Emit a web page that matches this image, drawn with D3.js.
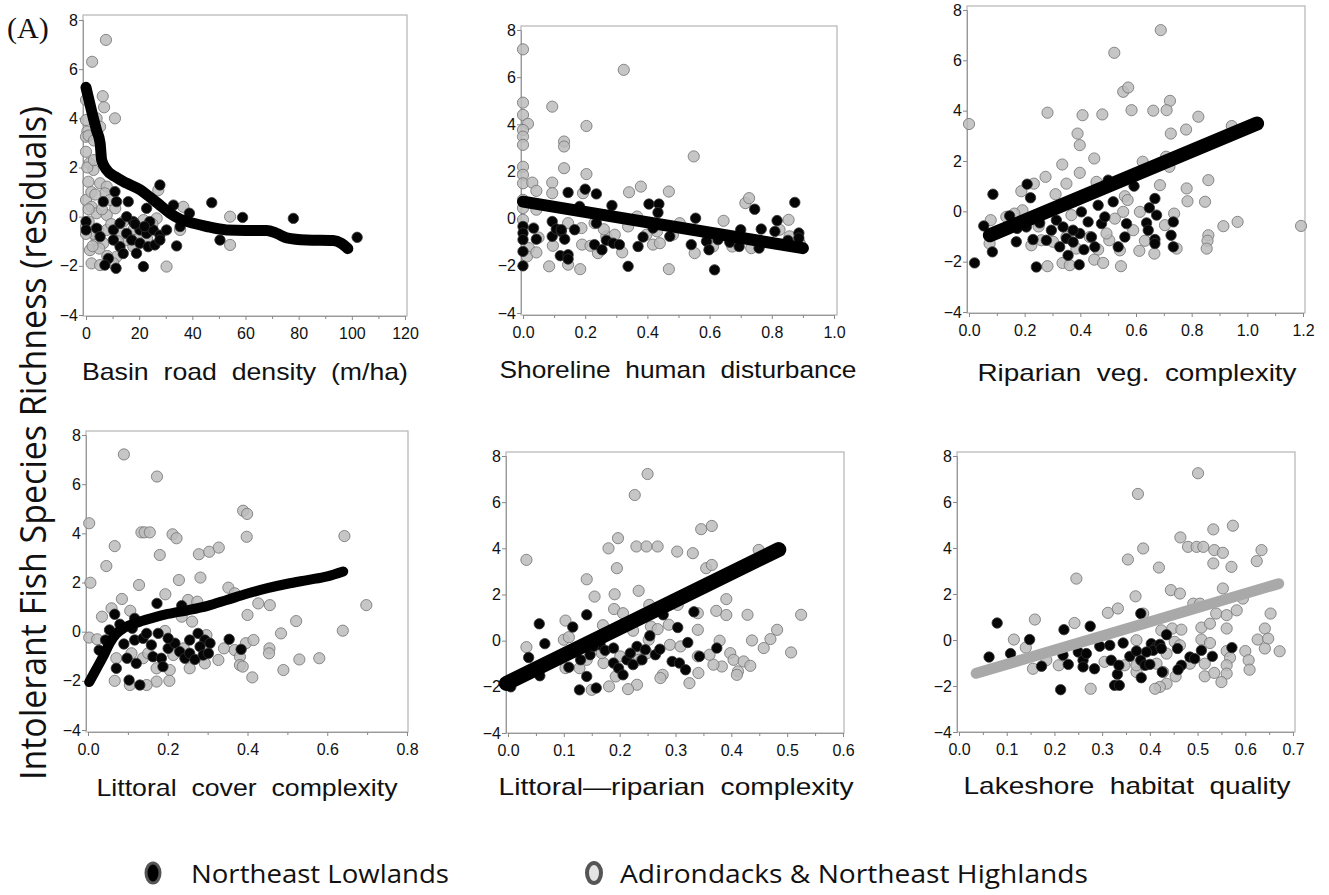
<!DOCTYPE html>
<html><head><meta charset="utf-8">
<script src="https://cdn.jsdelivr.net/npm/d3@7"></script>
<style>
html,body{margin:0;padding:0;background:#fff;}
svg{display:block;}
</style></head>
<body>
<svg id="chart" width="1329" height="895"></svg>
<script>
// ---------- DATA ----------
const yTicks = [-4, -2, 0, 2, 4, 6, 8];
const p1XTicks = [0, 20, 40, 60, 80, 100, 120];
const p2XTicks = [0, 0.2, 0.4, 0.6, 0.8, 1.0];
const p3XTicks = [0, 0.2, 0.4, 0.6, 0.8, 1.0, 1.2];
const p4XTicks = [0, 0.2, 0.4, 0.6, 0.8];
const p5XTicks = [0, 0.1, 0.2, 0.3, 0.4, 0.5, 0.6];
const p6XTicks = [0, 0.1, 0.2, 0.3, 0.4, 0.5, 0.6, 0.7];
const xTitles = ["Basin  road  density  (m/ha)", "Shoreline  human  disturbance", "Riparian  veg.  complexity",
  "Littoral  cover  complexity", "Littoral\u2014riparian  complexity", "Lakeshore  habitat  quality"];
const yTitle = "Intolerant Fish Species Richness (residuals)";
const legendLabels = ["Northeast Lowlands", "Adirondacks & Northeast Highlands"];
const panelTag = "(A)";

// Panel 1: Basin road density
const p1Gray = [[7.5,7.19],[2.3,6.3],[6.3,4.9],[6.8,4.45],[10.9,4.0],[0,4.75],[0,3.93],[0.5,3.46],[0,3.25],[4,4.0],[5.3,3.66],
 [0,2.64],[1.3,2.17],[2.8,1.9],[0.9,1.42],[5.3,1.36],[7.8,1.22],[0,0.68],[2.1,0.4],[4,0.14],[7.8,0.07],[11,0.34],[0,-0.4],
 [4.6,-0.54],[1.5,-1.36],[4,-0.95],[6.5,-1.08],[2.1,-1.9],[5.3,-1.97],[11.5,-1.63],[10.3,-1.9],[27.2,1.08],[26.6,-0.07],
 [21.6,-0.14],[36.6,0.4],[35.4,-0.54],[30.3,-2.03],[54.2,0],[54.2,-1.15],[15.3,-0.95],[20.3,-0.68],[7.1,0.95],[9,0.68],
 [13.4,-0.68],[17.8,-1.22],[7.8,-0.54],[1,3.3],[3,3.1],[0.5,2.0],[2,1.0],[3.5,0.9],[6,0.3],[1,-0.2],[3,-0.7],[5,-1.3],
 [8,-1.6],[2.5,-1.2],[9.5,-0.3],[12,-1.0],[14,-0.2],[18,-0.5],[23,-0.9],[25,-0.3],[0,-0.7],[1,0.3],[3,2.3]];
const p1Black = [[27.8,1.29],[10.9,1.02],[6.5,0.61],[11.5,0.61],[15.9,0.61],[22.8,0.34],[32.9,0.47],[47.3,0.57],[38.9,0.14],
 [58.9,-0.03],[78,-0.07],[102,-0.84],[0,-0.2],[0,-0.54],[4,-0.47],[10.3,-0.54],[12.8,-0.27],[17.8,-0.2],[20.3,-0.54],
 [22.8,-0.68],[25.3,-0.54],[27.8,-0.75],[15.3,-0.68],[17.2,-0.95],[20.3,-1.08],[23.4,-1.22],[25.9,-1.15],[12.8,-1.22],
 [10.3,-0.95],[8.4,-1.7],[7.1,-1.97],[11.3,-2.1],[21.6,-2.03],[34.1,-1.19],[50.4,-0.95],[35.4,-0.4],[19,-1.49],[5.3,-0.81],
 [15.3,0],[27.8,-0.95],[30.3,-0.54],[18.5,-0.3],[24,-0.2],[14,-1.5],[22,-0.4]];
const p1Fit = [[0,5.26],[1,4.8],[2.1,4.3],[4,3.5],[5.3,3.0],[5.9,2.3],[7.8,1.9],[10.9,1.63],[15.3,1.36],[20.3,1.1],[24,0.8],
 [27.8,0.47],[31.6,0.14],[35.4,-0.1],[40.4,-0.27],[45.4,-0.4],[52.9,-0.54],[60,-0.56],[68,-0.56],[71.7,-0.68],[75.5,-0.86],
 [83,-0.95],[93,-0.97],[96,-1.08],[98.5,-1.3]];

// Panel 2: Shoreline human disturbance
const p2Gray = [[0,7.18],[0.324,6.31],[0,4.92],[0.094,4.75],[0,4.4],[0.016,4.02],[0,3.76],[0,3.48],[0,3.13],[0.204,3.93],
 [0.132,3.27],[0.132,3.06],[0.132,2.14],[0.204,1.89],[0.549,2.64],[0,2.2],[0,1.86],[0,1.5],[0.03,1.53],[0.043,1.18],
 [0.094,1.53],[0.094,1.08],[0.193,1.08],[0.341,1.12],[0.379,1.36],[0.469,1.15],[0.715,0.66],[0.727,0.87],[0.645,-0.09],
 [0.854,-0.05],[0,0.8],[0,0.45],[0.043,0.38],[0,-0.05],[0.145,-0.19],[0.188,-0.4],[0.23,-0.19],[0.268,-0.75],[0.295,-0.68],
 [0.338,-0.33],[0.367,0.09],[0.397,-0.68],[0.418,-1.1],[0.44,-1.04],[0.504,-0.19],[0.482,-0.68],[0.096,-1.15],[0.19,-1.1],
 [0.217,-1.15],[0.241,-1.46],[0.319,-1.43],[0.552,-1.46],[0.019,-1.25],[0.013,-1.6],[0.043,-1.43],[0.084,-2.02],
 [0.145,-1.95],[0.184,-2.14],[0.469,-2.14],[0.611,-1.18],[0.673,-1.18],[0.734,-1.25],[0.825,-0.47],[0.857,-0.75],
 [0.89,-1.04],[0.595,-0.89],[0.431,-0.54],[0.26,-0.45],[0.05,-0.8],[0.11,-0.5]];
const p2Black = [[0.145,1.11],[0.2,1.25],[0.236,1.05],[0.286,0.56],[0.405,0.62],[0.437,0.62],[0.434,0.26],[0.555,0.02],
 [0.745,0.4],[0.874,0.69],[0.817,-0.08],[0.766,-0.44],[0.7,-0.47],[0.81,-0.54],[0.887,-0.61],[0.887,-0.82],[0,-0.33],
 [0,-0.61],[0,-0.89],[0.034,-0.4],[0.043,-0.87],[0.094,-0.12],[0.094,-0.75],[0.107,-0.44],[0.123,-0.54],[0.134,-0.87],
 [0.123,-0.47],[0.166,-0.47],[0.12,-1.57],[0.145,-1.53],[0.145,-1.71],[0,-1.39],[0,-2.0],[0.23,-1.1],[0.254,-1.32],
 [0.268,-0.92],[0.29,-1.04],[0.31,-1.1],[0.37,-1.18],[0.386,-0.78],[0.338,-2.02],[0.472,-0.75],[0.541,-1.1],[0.59,-0.96],
 [0.598,-1.32],[0.616,-2.17],[0.627,-0.89],[0.665,-1.0],[0.695,-1.18],[0.759,-1.25],[0.852,-0.92],[0.236,-0.19],
 [0.418,-0.4],[0.182,0.52]];
const p2Fit = [[0,0.72],[0.9,-1.25]];

// Panel 3: Riparian veg. complexity
const p3Gray = [[0.689,7.2],[0.522,6.3],[0.554,4.75],[0.572,4.92],[0.722,4.39],[0.71,4.02],[0.662,4.0],[0.584,4.02],
 [0.282,3.92],[0.408,3.82],[0.479,3.85],[0.824,3.76],[0,3.47],[0.944,3.39],[0.78,3.25],[0.725,3.09],[0.39,3.09],
 [0.398,2.63],[0.45,2.1],[0.335,1.86],[0.398,1.53],[0.624,1.97],[0.708,2.17],[0.72,1.77],[0.275,1.37],[0.233,1.1],
 [0.35,1.1],[0.458,1.17],[0.686,1.04],[0.86,1.24],[0.782,0.91],[0.188,0.8],[0.311,0.68],[0.785,0.4],[0.848,0.38],
 [0.192,0.04],[0.134,-0.22],[0.078,-0.35],[0.163,-0.09],[0.368,-0.15],[0.554,-0.02],[0.614,-0.02],[0.737,-0.09],
 [0.914,-0.59],[0.965,-0.42],[1.193,-0.58],[0.704,-0.55],[0.86,-0.95],[0.857,-1.17],[0.854,-1.48],[0.59,-0.75],
 [0.632,-1.17],[0.612,-1.57],[0.666,-1.68],[0.746,-1.48],[0.302,-1.21],[0.26,-1.15],[0.224,-1.35],[0.074,-1.28],
 [0.35,-1.02],[0.504,-1.15],[0.464,-1.52],[0.542,-1.55],[0.282,-2.18],[0.336,-2.05],[0.362,-2.14],[0.45,-1.92],
 [0.482,-2.05],[0.546,-2.18],[0.386,-1.48],[0.434,-1.02],[0.494,-0.88],[0.524,-0.29],[0.56,0.6],[0.57,0.45],[0.25,-0.6]];
const p3Black = [[0.086,0.68],[0.053,-0.58],[0.084,-1.61],[0.02,-2.05],[0.209,1.08],[0.221,0.54],[0.242,-2.21],[0.5,1.24],
 [0.593,1.0],[0.518,0.38],[0.464,0.24],[0.668,0.51],[0.648,0.14],[0.674,-0.15],[0.734,-0.42],[0.726,-0.95],[0.734,-1.41],
 [0.668,-1.12],[0.668,-1.28],[0.638,-0.46],[0.644,-0.75],[0.146,-0.18],[0.173,-0.68],[0.17,-1.21],[0.206,-0.62],
 [0.23,-1.12],[0.254,-0.46],[0.296,-0.75],[0.314,-0.35],[0.338,-0.62],[0.35,-1.08],[0.374,-1.22],[0.398,-0.88],
 [0.404,-0.02],[0.428,-0.42],[0.44,-1.02],[0.452,-1.41],[0.476,-0.49],[0.488,-0.22],[0.413,-1.52],[0.356,-1.75],
 [0.396,-2.12],[0.536,-1.41],[0.56,-1.02],[0.566,-0.49],[0.374,-0.75],[0.278,-1.15],[0.326,-1.41]];
const p3Fit = [[0.075,-0.95],[1.035,3.49]];

// Panel 4: Littoral cover complexity
const p4Gray = [[0.09,7.21],[0.173,6.31],[0.003,4.41],[0.389,4.92],[0.399,4.79],[0.398,3.86],[0.643,3.89],[0.134,4.04],
 [0.142,4.04],[0.155,4.04],[0.212,3.96],[0.222,3.8],[0.067,3.48],[0.18,3.12],[0.278,3.15],[0.304,3.25],[0.328,3.42],
 [0.046,2.67],[0.006,1.99],[0.128,1.9],[0.228,2.1],[0.282,2.2],[0.352,1.79],[0.368,1.56],[0.194,1.52],[0.085,1.33],
 [0.059,0.95],[0.106,0.85],[0.035,0.61],[0.251,1.29],[0.274,1.22],[0.427,1.15],[0.456,1.08],[0.698,1.08],[0.4,0.68],
 [0.522,0.43],[0.639,0.04],[0.484,-0.07],[0.003,-0.24],[0.023,-0.31],[0.193,0.03],[0.235,0.61],[0.261,0.41],[0.297,-0.14],
 [0.341,-0.68],[0.368,-0.75],[0.396,-0.47],[0.415,-0.34],[0.455,-0.68],[0.454,-0.88],[0.381,-1.02],[0.381,-1.36],
 [0.388,-1.42],[0.412,-1.86],[0.49,-1.56],[0.53,-1.13],[0.58,-1.08],[0.327,-1.15],[0.293,-1.29],[0.255,-1.49],
 [0.205,-1.56],[0.172,-1.49],[0.172,-2.03],[0.204,-2.0],[0.147,-2.17],[0.105,-2.17],[0.067,-2.0],[0.071,-1.08],
 [0.109,-0.88],[0.138,-1.08],[0.151,-0.88],[0.24,-0.68],[0.214,-0.95]];
const p4Black = [[0.067,0.71],[0.173,1.15],[0.235,1.06],[0.028,-0.75],[0.044,-0.34],[0.054,0.07],[0.071,-1.49],[0.103,-1.97],
 [0.13,-2.17],[0.121,-1.29],[0.098,-1.08],[0.117,-0.34],[0.138,-0.27],[0.111,0.14],[0.117,0.54],[0.159,-0.54],[0.163,-1.02],
 [0.184,-1.08],[0.188,-1.42],[0.201,-0.68],[0.218,-0.47],[0.23,-0.81],[0.243,-1.08],[0.255,-0.88],[0.268,-1.13],
 [0.276,-0.07],[0.293,-0.34],[0.281,-0.61],[0.289,-0.95],[0.306,-0.47],[0.302,-0.88],[0.354,-0.31],[0.384,-0.72],
 [0.176,-0.07],[0.147,-0.07],[0.255,-0.34],[0.201,-0.27],[0.09,-0.5],[0.08,0.3]];
const p4Fit = [[0.003,-2.05],[0.02,-1.55],[0.04,-0.95],[0.055,-0.45],[0.07,-0.1],[0.09,0.15],[0.12,0.35],[0.16,0.55],
 [0.2,0.72],[0.25,0.87],[0.3,1.05],[0.35,1.3],[0.4,1.55],[0.45,1.77],[0.5,1.95],[0.55,2.1],[0.6,2.25],[0.64,2.45]];

// Panel 5: Littoral-riparian complexity
const p5Gray = [[0.25,7.22],[0.227,6.31],[0.033,3.5],[0.141,2.66],[0.155,1.91],[0.18,4.0],[0.197,4.44],[0.195,3.14],
 [0.23,4.08],[0.248,4.08],[0.268,4.08],[0.303,3.86],[0.331,3.79],[0.346,4.83],[0.365,4.97],[0.355,3.14],[0.365,3.28],
 [0.449,3.93],[0.191,2.01],[0.234,2.16],[0.253,1.55],[0.19,1.37],[0.206,1.19],[0.103,0.87],[0.17,0.67],[0.224,0.43],
 [0.256,0.61],[0.268,0.5],[0.288,0.69],[0.304,1.55],[0.27,1.34],[0.34,1.19],[0.34,0.47],[0.373,1.29],[0.391,1.8],
 [0.391,1.11],[0.429,1.12],[0.525,1.12],[0.482,0.47],[0.47,0.07],[0.437,0.01],[0.458,-0.32],[0.379,0.0],[0.398,-0.54],
 [0.404,-0.83],[0.422,-0.9],[0.434,-1.09],[0.412,-1.33],[0.41,-1.48],[0.507,-0.51],[0.383,-1.12],[0.368,-1.04],
 [0.361,-0.61],[0.34,-0.68],[0.341,-1.4],[0.325,-1.84],[0.29,-0.18],[0.309,-0.25],[0.277,-1.48],[0.273,-1.62],
 [0.231,-1.91],[0.215,-2.1],[0.181,-1.98],[0.15,-2.13],[0.171,-0.97],[0.168,-0.54],[0.193,-1.55],[0.201,-0.68],
 [0.228,-0.54],[0.1,0.04],[0.109,0.15],[0.103,-1.19],[0.128,-1.19],[0.033,-0.28],[0.141,-0.83],[0.252,0.04],
 [0.234,-0.83],[0.249,-0.54]];
const p5Black = [[0.056,0.73],[0.066,-0.13],[0.037,-0.73],[0.057,-1.52],[0.116,0.59],[0.141,1.12],[0.109,-1.15],
 [0.128,-2.13],[0.158,-2.05],[0.141,-1.55],[0.13,-0.83],[0.147,-0.61],[0.165,-0.18],[0.174,-0.42],[0.189,-0.97],
 [0.198,-1.19],[0.206,-1.48],[0.213,-0.83],[0.224,-1.04],[0.231,-0.25],[0.24,-0.83],[0.246,-0.39],[0.254,0.21],
 [0.264,-0.61],[0.272,-0.37],[0.278,1.12],[0.304,0.57],[0.294,-0.9],[0.307,-0.97],[0.318,-1.26],[0.322,-0.08],
 [0.333,1.25],[0.343,-0.68],[0.374,-0.32],[0.153,-0.25],[0.189,-0.32],[0.219,-0.54],[0.005,-2.0]];
const p5Fit = [[-0.003,-1.85],[0.485,3.95]];

// Panel 6: Lakeshore habitat quality
const p6Gray = [[0.501,7.25],[0.375,6.35],[0.464,4.46],[0.533,4.81],[0.574,4.97],[0.48,4.05],[0.498,4.05],[0.512,4.05],
 [0.386,3.98],[0.354,3.5],[0.419,3.15],[0.535,3.91],[0.553,3.79],[0.533,3.33],[0.571,3.18],[0.634,3.91],[0.624,3.43],
 [0.246,2.67],[0.37,1.9],[0.444,2.17],[0.463,2.02],[0.553,2.24],[0.595,1.8],[0.312,1.18],[0.333,1.37],[0.386,1.15],
 [0.491,1.58],[0.505,1.58],[0.539,1.15],[0.561,1.08],[0.582,1.29],[0.653,1.15],[0.159,0.89],[0.242,0.74],[0.447,0.5],
 [0.466,0.45],[0.508,0.54],[0.526,0.71],[0.561,0.5],[0.641,0.5],[0.424,0.42],[0.115,0.02],[0.14,-0.33],[0.626,0.02],
 [0.648,0.06],[0.641,-0.37],[0.672,-0.49],[0.6,-0.48],[0.607,-0.88],[0.609,-1.29],[0.508,0.02],[0.526,-0.13],
 [0.561,-0.48],[0.568,-0.77],[0.561,-1.1],[0.561,-1.46],[0.55,-1.83],[0.515,-1.58],[0.535,-1.43],[0.515,-1.03],
 [0.484,-1.03],[0.454,-1.58],[0.435,-1.9],[0.421,-2.04],[0.411,-2.12],[0.428,-1.39],[0.435,-0.59],[0.452,-0.08],
 [0.463,-0.23],[0.414,-1.03],[0.372,-0.01],[0.372,-1.39],[0.372,-1.1],[0.305,-0.95],[0.276,-2.12],[0.209,-1.1],
 [0.155,-1.25],[0.183,-0.88],[0.347,-1.1]];
const p6Black = [[0.063,-0.74],[0.08,0.74],[0.108,-0.59],[0.148,0.02],[0.173,-1.14],[0.213,-2.16],[0.22,0.45],[0.275,0.6],
 [0.381,1.15],[0.435,0.23],[0.218,-0.66],[0.229,-1.06],[0.25,-0.52],[0.26,-0.88],[0.26,-1.17],[0.267,-0.59],[0.284,-1.25],
 [0.295,-0.27],[0.316,-0.23],[0.319,-0.88],[0.332,-1.49],[0.335,-1.1],[0.326,-1.97],[0.336,-1.97],[0.344,-0.13],
 [0.358,-0.71],[0.372,-0.48],[0.381,-0.88],[0.382,-1.64],[0.39,-1.1],[0.4,-1.06],[0.403,-0.16],[0.414,-0.3],[0.407,-0.45],
 [0.421,-0.19],[0.424,-0.37],[0.426,-1.39],[0.458,-0.37],[0.466,-1.1],[0.459,-1.29],[0.484,-0.74],[0.494,-0.81],
 [0.508,-0.45],[0.531,-0.71],[0.572,-0.33],[0.393,-0.52]];
const p6Fit = [[0.036,-1.45],[0.67,2.45]];

// ---------- LAYOUT (pixels / styles) ----------
const panels = [
  {xDom:[0,120], xr:[86,405], yr:[315,20], frame:[83,15,407,316], ticks:p1XTicks, fmt:d3.format("d"),
   title:xTitles[0], tx:245, ty:380, tlen:326, gray:p1Gray, black:p1Black, fit:p1Fit, fitColor:"#000", fitW:11, curve:true},
  {xDom:[0,1], xr:[523,834], yr:[313,30], frame:[521,26,837,315], ticks:p2XTicks, fmt:d3.format(".1f"),
   title:xTitles[1], tx:678, ty:378, tlen:357, gray:p2Gray, black:p2Black, fit:p2Fit, fitColor:"#000", fitW:12},
  {xDom:[0,1.2], xr:[969,1303], yr:[312,10], frame:[967,6,1305,313], ticks:p3XTicks, fmt:d3.format(".1f"),
   title:xTitles[2], tx:1137, ty:381, tlen:319, gray:p3Gray, black:p3Black, fit:p3Fit, fitColor:"#000", fitW:14},
  {xDom:[0,0.8], xr:[88,407], yr:[730,435], frame:[86,431,408,732], ticks:p4XTicks, fmt:d3.format(".1f"),
   title:xTitles[3], tx:247, ty:796, tlen:301, gray:p4Gray, black:p4Black, fit:p4Fit, fitColor:"#000", fitW:10, curve:true},
  {xDom:[0,0.6], xr:[508,843], yr:[733,456], frame:[506,452,844,733], ticks:p5XTicks, fmt:d3.format(".1f"),
   title:xTitles[4], tx:676, ty:795, tlen:355, gray:p5Gray, black:p5Black, fit:p5Fit, fitColor:"#000", fitW:15},
  {xDom:[0,0.7], xr:[959,1293], yr:[732,456], frame:[957,452,1295,732], ticks:p6XTicks, fmt:d3.format(".1f"),
   title:xTitles[5], tx:1127, ty:794, tlen:327, gray:p6Gray, black:p6Black, fit:p6Fit, fitColor:"#a9a9a9", fitW:11}
];

const svg = d3.select("#chart");
const yFmt = d => d < 0 ? "\u2212" + Math.abs(d) : String(d);
const tickFont = "Liberation Sans, Arial, sans-serif";

panels.forEach(p => {
  const g = svg.append("g");
  const x = d3.scaleLinear().domain(p.xDom).range(p.xr);
  const y = d3.scaleLinear().domain([-4, 8]).range(p.yr);
  const [fx0, fy0, fx1, fy1] = p.frame;

  g.append("rect").attr("x", fx0).attr("y", fy0).attr("width", fx1 - fx0).attr("height", fy1 - fy0)
    .attr("fill", "none").attr("stroke", "#b5b5b5").attr("stroke-width", 1.2);

  // y axis
  const ya = g.append("g").attr("transform", `translate(${fx0},0)`)
    .call(d3.axisLeft(y).tickValues(yTicks).tickSize(4).tickPadding(1).tickFormat(yFmt));
  ya.attr("font-size", 16).attr("font-family", tickFont);
  ya.select(".domain").attr("stroke", "#999");
  ya.selectAll(".tick line").attr("stroke", "#888");
  ya.selectAll("text").attr("fill", "#111");

  // x axis major
  const xa = g.append("g").attr("transform", `translate(0,${fy1})`)
    .call(d3.axisBottom(x).tickValues(p.ticks).tickSize(4).tickPadding(8).tickFormat(p.fmt));
  xa.attr("font-size", 16).attr("font-family", tickFont);
  xa.select(".domain").attr("stroke", "#999");
  xa.selectAll(".tick line").attr("stroke", "#888");
  xa.selectAll("text").attr("fill", "#111");
  // x axis minor
  const minor = d3.pairs(p.ticks).map(([a, b]) => (a + b) / 2);
  const xm = g.append("g").attr("transform", `translate(0,${fy1})`)
    .call(d3.axisBottom(x).tickValues(minor).tickSize(3).tickFormat(""));
  xm.select(".domain").remove();
  xm.selectAll(".tick line").attr("stroke", "#888");

  // points
  g.append("g").selectAll("circle").data(p.gray).join("circle")
    .attr("cx", d => x(d[0])).attr("cy", d => y(d[1])).attr("r", 5.6)
    .attr("fill", "#bcbcbc").attr("fill-opacity", 0.85).attr("stroke", "#777").attr("stroke-opacity", 0.85).attr("stroke-width", 1);
  g.append("g").selectAll("circle").data(p.black).join("circle")
    .attr("cx", d => x(d[0])).attr("cy", d => y(d[1])).attr("r", 5.2)
    .attr("fill", "#050505").attr("stroke", "#333").attr("stroke-width", 0.8);

  // fit
  const line = d3.line().x(d => x(d[0])).y(d => y(d[1])).curve(p.curve ? d3.curveMonotoneX : d3.curveLinear);
  g.append("path").datum(p.fit).attr("d", line).attr("fill", "none")
    .attr("stroke", p.fitColor).attr("stroke-width", p.fitW).attr("stroke-linecap", "round").attr("stroke-linejoin", "round");

  // x title
  g.append("text").attr("x", p.tx).attr("y", p.ty).attr("text-anchor", "middle")
    .attr("font-family", tickFont).attr("font-size", 24).attr("fill", "#111")
    .attr("textLength", p.tlen).attr("lengthAdjust", "spacingAndGlyphs")
    .style("white-space", "pre").text(p.title);
});

// y title
svg.append("text").attr("transform", "translate(46,443) rotate(-90)").attr("text-anchor", "middle")
  .attr("font-family", "Open Sans, Lato, sans-serif").attr("font-size", 37).attr("fill", "#111")
  .attr("textLength", 674).attr("lengthAdjust", "spacingAndGlyphs").text(yTitle);

// panel tag
svg.append("text").attr("x", 7).attr("y", 38).attr("font-family", "Liberation Serif, Times New Roman, serif")
  .attr("font-size", 30).attr("fill", "#111").text(panelTag);

// legend
const legendX = [153, 594];
const legendTextX = [191, 620];
const legendLen = [258, 468];
const legendFill = ["#000", "#e4e4e4"];
legendLabels.forEach((lab, i) => {
  svg.append("ellipse").attr("cx", legendX[i]).attr("cy", 873).attr("rx", 7).attr("ry", 10)
    .attr("fill", legendFill[i]).attr("stroke", "#555").attr("stroke-width", i ? 4 : 3);
  svg.append("text").attr("x", legendTextX[i]).attr("y", 883).attr("font-family", "Open Sans, Lato, sans-serif")
    .attr("font-size", 26).attr("fill", "#111").attr("textLength", legendLen[i]).attr("lengthAdjust", "spacingAndGlyphs").text(lab);
});
</script>
</body></html>
